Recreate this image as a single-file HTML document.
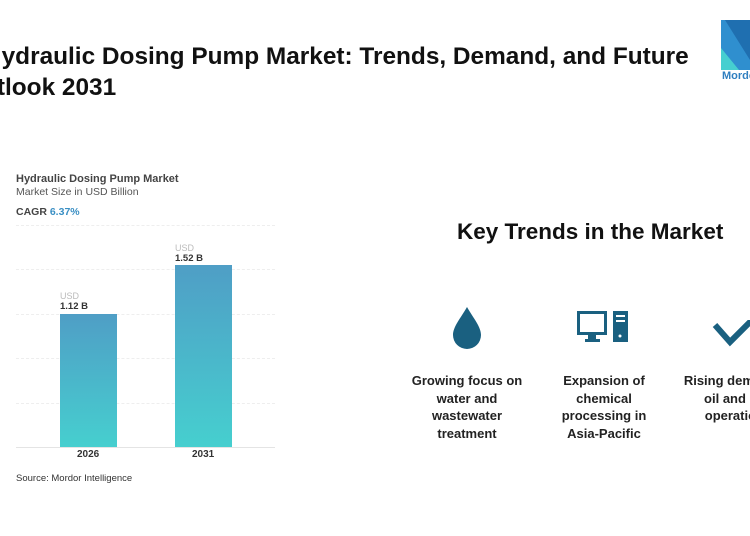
<!DOCTYPE html>
<html><head><style>
body{margin:0;width:750px;height:536px;background:#fff;position:relative;overflow:hidden;font-family:"Liberation Sans",sans-serif}
.a{position:absolute;white-space:nowrap}
.t{font-size:24.4px;font-weight:bold;color:#111}
.g{position:absolute;left:16px;width:259px;height:0;border-top:1px dashed #eee}
.bar{position:absolute;width:57px;background:linear-gradient(#4f9ec6,#46cfcf)}
.c{position:absolute;text-align:center;font-size:13px;font-weight:bold;color:#222;line-height:17.5px;width:140px}
</style></head><body>
<div class="a t" style="left:-16px;top:43px">Hydraulic Dosing Pump Market: Trends, Demand, and Future</div>
<div class="a t" style="left:-37px;top:74px">Outlook 2031</div>
<svg class="a" style="left:721px;top:20px" width="29" height="50"><polygon points="0,0 29,0 29,50 0,50" fill="#2f8fcf"/><polygon points="0,28 0,50 18,50" fill="#46cfd0"/><polygon points="4,0 29,40 29,0" fill="#1f6fb0"/></svg>
<div class="a" style="left:722px;top:70px;font-size:11px;font-weight:bold;color:#2f7fc0">Mordor</div>

<div class="a" style="left:16px;top:173px;font-size:11px;font-weight:bold;color:#444">Hydraulic Dosing Pump Market</div>
<div class="a" style="left:16px;top:186px;font-size:10.5px;color:#555">Market Size in USD Billion</div>
<div class="a" style="left:16px;top:206px;font-size:10.5px;font-weight:bold;color:#444">CAGR <span style="color:#3a8fc4">6.37%</span></div>
<div class="g" style="top:225px"></div><div class="g" style="top:269px"></div><div class="g" style="top:314px"></div><div class="g" style="top:358px"></div><div class="g" style="top:403px"></div>
<div class="a" style="left:16px;top:447px;width:259px;border-top:1px solid #e4e4e4"></div>
<div class="bar" style="left:60px;top:314px;height:133px"></div>
<div class="bar" style="left:175px;top:265px;height:182px"></div>
<div class="a" style="left:60px;top:291px;font-size:9px;color:#bbb">USD</div>
<div class="a" style="left:60px;top:301px;font-size:9.5px;font-weight:bold;color:#333">1.12 B</div>
<div class="a" style="left:175px;top:243px;font-size:9px;color:#bbb">USD</div>
<div class="a" style="left:175px;top:253px;font-size:9.5px;font-weight:bold;color:#333">1.52 B</div>
<div class="a" style="left:77px;top:449px;font-size:10px;font-weight:bold;color:#333">2026</div>
<div class="a" style="left:192px;top:449px;font-size:10px;font-weight:bold;color:#333">2031</div>
<div class="a" style="left:16px;top:473px;font-size:9.5px;color:#333">Source: Mordor Intelligence</div>

<div class="a" style="left:457px;top:219px;font-size:22.5px;font-weight:bold;color:#111">Key Trends in the Market</div>
<svg class="a" style="left:452px;top:305px" width="30" height="45"><path d="M15,2 C22,14 29,22 29,30 A14,14 0 0 1 1,30 C1,22 8,14 15,2Z" fill="#1a6080"/></svg>
<svg class="a" style="left:577px;top:311px" width="53" height="34" fill="#1a6080"><path d="M0,0h30v24h-30z M3,3v18h24v-18z" fill-rule="evenodd"/><rect x="11" y="24" width="8" height="4"/><rect x="8" y="28" width="15" height="3"/><rect x="36" y="0" width="15" height="31"/><rect x="39" y="4" width="9" height="2" fill="#fff"/><rect x="39" y="9" width="9" height="2" fill="#fff"/><circle cx="43" cy="25" r="1.5" fill="#fff"/></svg>
<svg class="a" style="left:712px;top:320px" width="38" height="30"><polyline points="3,5 18,22 40,0" fill="none" stroke="#1a6080" stroke-width="6"/></svg>
<div class="c" style="left:397px;top:372px">Growing focus on<br>water and<br>wastewater<br>treatment</div>
<div class="c" style="left:534px;top:372px">Expansion of<br>chemical<br>processing in<br>Asia-Pacific</div>
<div class="c" style="left:668px;top:372px">Rising demand in<br>oil and gas<br>operations</div>
</body></html>
